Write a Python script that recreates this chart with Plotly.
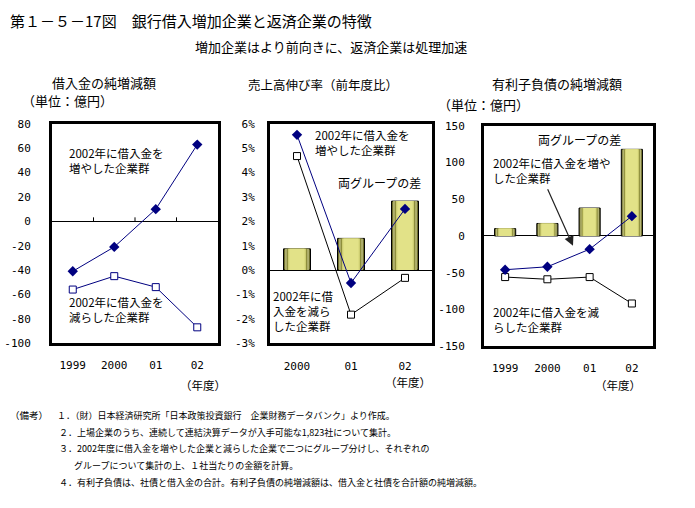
import plotly.graph_objects as go

W, H = 695, 508

# ---------------- data ----------------
years4 = ["1999", "2000", "01", "02"]
years3 = ["2000", "01", "02"]

# Panel 1: 借入金の純増減額 (億円)
loan_inc = [-41, -21, 10, 63]
loan_dec = [-56, -45, -54, -87]
p1_tickvals = [80, 60, 40, 20, 0, -20, -40, -60, -80, -100]
p1_ticktext = ["80", "60", "40", "20", "0", "-20", "-40", "-60", "-80", "-100"]

# Panel 2: 売上高伸び率 (%)
sales_inc = [5.55, -0.53, 2.51]
sales_dec = [4.68, -1.83, -0.32]
sales_diff = [0.87, 1.30, 2.83]
p2_tickvals = [6, 5, 4, 3, 2, 1, 0, -1, -2, -3]
p2_ticktext = ["6%", "5%", "4%", "3%", "2%", "1%", "0%", "-1%", "-2%", "-3%"]

# Panel 3: 有利子負債の純増減額 (億円)
debt_inc = [-46, -42, -18, 27]
debt_dec = [-56, -59, -56, -92]
debt_diff = [10, 17, 38, 118]
p3_tickvals = [150, 100, 50, 0, -50, -100, -150]
p3_ticktext = ["150", "100", "50", "0", "-50", "-100", "-150"]

# ---------------- helpers ----------------
def px(x):
    return x / W

def py(y):
    return 1 - y / H

JP = "Noto Sans CJK JP"
MONO = "DejaVu Sans Mono"
NAVY = "#000080"

bar_layers = [  # (width, color)
    (0.50, "#6e6e2a"),
    (0.44, "#b8b878"),
    (0.38, "#8e8e3c"),
    (0.33, "#d4d478"),
    (0.28, "#e2e288"),
]

fig = go.Figure()

# Panel 1 lines
fig.add_trace(go.Scatter(x=years4, y=loan_inc, mode="lines+markers", xaxis="x", yaxis="y",
                         line=dict(color=NAVY, width=1),
                         marker=dict(symbol="diamond", size=8, color=NAVY)))
fig.add_trace(go.Scatter(x=years4, y=loan_dec, mode="lines+markers", xaxis="x", yaxis="y",
                         line=dict(color=NAVY, width=1),
                         marker=dict(symbol="square", size=7, color="white",
                                     line=dict(color=NAVY, width=1))))

# Panel 2 bars
for i, (w, c) in enumerate(bar_layers):
    fig.add_trace(go.Bar(x=years3, y=sales_diff, xaxis="x2", yaxis="y2", width=w,
                         marker=dict(color=c, line=dict(color="black", width=1 if i == 0 else 0))))
fig.add_trace(go.Scatter(x=years3, y=sales_dec, mode="lines+markers", xaxis="x2", yaxis="y2",
                         line=dict(color="black", width=1),
                         marker=dict(symbol="square", size=7, color="white",
                                     line=dict(color="black", width=1))))
fig.add_trace(go.Scatter(x=years3, y=sales_inc, mode="lines+markers", xaxis="x2", yaxis="y2",
                         line=dict(color=NAVY, width=1),
                         marker=dict(symbol="diamond", size=8, color=NAVY)))

# Panel 3 bars
for i, (w, c) in enumerate(bar_layers):
    fig.add_trace(go.Bar(x=years4, y=debt_diff, xaxis="x3", yaxis="y3", width=w,
                         marker=dict(color=c, line=dict(color="black", width=1 if i == 0 else 0))))
fig.add_trace(go.Scatter(x=years4, y=debt_dec, mode="lines+markers", xaxis="x3", yaxis="y3",
                         line=dict(color="black", width=1),
                         marker=dict(symbol="square", size=7, color="white",
                                     line=dict(color="black", width=1))))
fig.add_trace(go.Scatter(x=years4, y=debt_inc, mode="lines+markers", xaxis="x3", yaxis="y3",
                         line=dict(color=NAVY, width=1),
                         marker=dict(symbol="diamond", size=8, color=NAVY)))

def xax(domain, n, ticklen):
    return dict(domain=domain, type="category", range=[-0.5, n - 0.5],
                showline=True, mirror=True, linewidth=3, linecolor="black",
                ticks="outside", ticklen=ticklen, tickcolor="rgba(0,0,0,0)",
                tickfont=dict(family=MONO, size=11, color="black"),
                showgrid=False, zeroline=False, fixedrange=True)

def yax(domain, anchor, rng, tv, tt, ticklen):
    return dict(domain=domain, anchor=anchor, range=rng, tickvals=tv, ticktext=tt,
                showline=True, mirror=True, linewidth=3, linecolor="black",
                ticks="outside", ticklen=ticklen, tickcolor="rgba(0,0,0,0)",
                tickfont=dict(family=MONO, size=11, color="black"),
                showgrid=False, zeroline=True, zerolinecolor="black", zerolinewidth=1,
                fixedrange=True)

ydom1 = [py(346), py(121)]
ydom3 = [py(349), py(123)]

layout = dict(
    width=W, height=H, autosize=False,
    margin=dict(l=0, r=0, t=0, b=0),
    paper_bgcolor="white", plot_bgcolor="white",
    showlegend=False, barmode="overlay",
    font=dict(family=JP, color="black"),
    xaxis=xax([px(52), px(218)], 4, 10),
    yaxis=yax(ydom1, "x", [-100, 80], p1_tickvals, p1_ticktext, 16),
    xaxis2=dict(xax([px(270), px(432)], 3, 11), anchor="y2"),
    yaxis2=yax(ydom1, "x2", [-3, 6], p2_tickvals, p2_ticktext, 10),
    xaxis3=dict(xax([px(484), px(653)], 4, 10), anchor="y3"),
    yaxis3=yax(ydom3, "x3", [-150, 150], p3_tickvals, p3_ticktext, 14),
)
layout["xaxis"]["anchor"] = "y"
fig.update_layout(**layout)

# ticks on zero line in panel 1 (category boundaries)
for b in [0.5, 1.5, 2.5]:
    fig.add_shape(type="line", xref="x", yref="y", x0=b, x1=b,
                  ysizemode="pixel", yanchor=0, y0=0, y1=4,
                  line=dict(color="black", width=1))

def txt(x, y, s, size=12, xanchor="left", yanchor="middle", align="left"):
    fig.add_annotation(xref="paper", yref="paper", x=px(x), y=py(y), text=s,
                       showarrow=False, xanchor=xanchor, yanchor=yanchor, align=align,
                       font=dict(family=JP, size=size, color="black"))

# header
txt(8, 15, "第１－５－17図　銀行借入増加企業と返済企業の特徴", 15)
txt(193, 42, "増加企業はより前向きに、返済企業は処理加速", 13)

# panel titles
txt(50, 79, "借入金の純増減額", 13)
txt(20, 97, "（単位：億円）", 13)
txt(246, 81, "売上高伸び率（前年度比）", 12.5)
txt(490, 80, "有利子負債の純増減額", 13)
txt(436, 101, "（単位：億円）", 13)

# in-plot labels
txt(67, 159, "2002年に借入金を<br>増やした企業群", 11.5)
txt(67, 311, "2002年に借入金を<br>減らした企業群", 11.5)
txt(313, 140, "2002年に借入金を<br>増やした企業群", 11.5)
txt(336, 181, "両グループの差", 12)
txt(271, 313, "2002年に借<br>入金を減ら<br>した企業群", 11.5)
txt(536, 137, "両グループの差", 12)
txt(491, 169, "2002年に借入金を増や<br>した企業群", 11.5)
txt(491, 322, "2002年に借入金を減<br>らした企業群", 11.5)

# arrow in panel 3
fig.add_annotation(xref="paper", yref="paper", x=px(573), y=py(246), text="",
                   showarrow=True, axref="pixel", ayref="pixel", ax=-26, ay=-58,
                   arrowhead=2, arrowsize=1.6, arrowwidth=1.2, arrowcolor="#222222")

# 年度 labels
txt(203, 389, "（年度）", 11.5, xanchor="center")
txt(408, 386, "（年度）", 11.5, xanchor="center")
txt(618, 389, "（年度）", 11.5, xanchor="center")

# notes
NS = 9
txt(8, 420, "（備考）", 9.5)
txt(55, 420, "１．（財）日本経済研究所「日本政策投資銀行　企業財務データバンク」より作成。", NS)
txt(57, 438, "２．上場企業のうち、連続して連結決算データが入手可能な1,823社について集計。", NS)
txt(57, 454, "３．2002年度に借入金を増やした企業と減らした企業で二つにグループ分けし、それぞれの", NS)
txt(72, 472, "グループについて集計の上、１社当たりの金額を計算。", NS)
txt(57, 489, "４．有利子負債は、社債と借入金の合計。有利子負債の純増減額は、借入金と社債を合計額の純増減額。", NS)

fig.write_html("out.html", config=dict(displayModeBar=False),
               post_script="document.body.style.margin='0';document.body.style.overflow='hidden';")
